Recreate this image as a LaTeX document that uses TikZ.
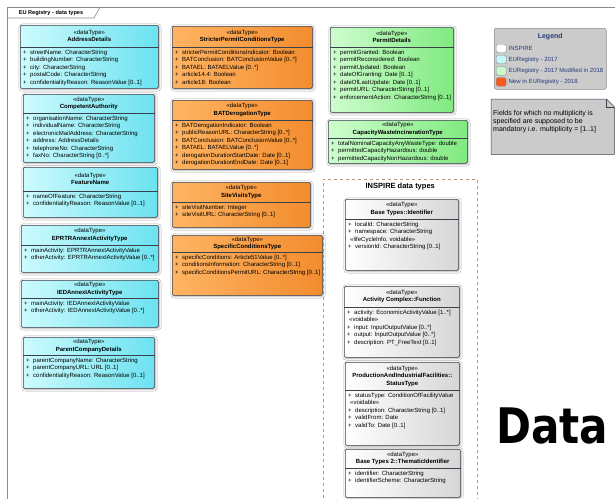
\documentclass[tikz,border=0pt]{standalone}
\usepackage{fontspec}
\setmainfont{Liberation Sans}
\newfontfamily\titlefont{DejaVu Sans}
\usepackage{tikz}
\usetikzlibrary{calc,positioning,shadows.blur}
\definecolor{clsline}{HTML}{3A404C}
\definecolor{cyanlo}{HTML}{CCFBFD}
\definecolor{cyanhi}{HTML}{6CE2F0}
\definecolor{orangelo}{HTML}{FFB462}
\definecolor{orangehi}{HTML}{F28C2E}
\definecolor{greenlo}{HTML}{CEFDCE}
\definecolor{greenhi}{HTML}{80EA80}
\definecolor{greyhi}{HTML}{D6D6D6}
\definecolor{pkgline}{HTML}{C4906E}
\definecolor{frameline}{HTML}{8A8A8A}
\definecolor{legendfg}{HTML}{243C7C}
\definecolor{legendbg}{HTML}{CBCBCB}
\definecolor{newred}{HTML}{F65A1C}
\definecolor{swcyan}{HTML}{C6F6F8}
\definecolor{swgreen}{HTML}{CCF8CC}

\newcommand{\pl}{\makebox[7pt][l]{+}}
% one UML data type: name, style, NW corner, width, height, header height, title, attributes
\newcommand{\dtclass}[8]{%
  \node[#2, minimum width=#4pt, minimum height=#5pt] (#1) at #3 {};
  \node[clshead] (#1-head) at ($(#1.north)+(0,#6/2)$) {«dataType»\\\bfseries #7};
  \draw[clssep] ($(#1.north west)+(0,#6)$) -- ($(#1.north east)+(0,#6)$);
  \node[clsattr] (#1-attr) at ($(#1.north west)+(3,#6+2.6)$) {#8};
}

\begin{document}
\begin{tikzpicture}[
    x=1pt, y=-1pt,
    font=\fontsize{6}{7.5}\selectfont,
    cls/.style={draw=clsline, line width=0.5pt, rounded corners=1.2pt, anchor=north west, inner sep=0pt,
      blur shadow={shadow xshift=0.8pt, shadow yshift=-0.8pt, shadow blur steps=3}},
    eu2017/.style={cls, left color=cyanlo, right color=cyanhi},
    eu2018/.style={cls, left color=orangelo, right color=orangehi},
    eumod/.style={cls, left color=greenlo, right color=greenhi},
    inspire/.style={cls, left color=white, right color=greyhi},
    clshead/.style={align=center, inner sep=0pt},
    clssep/.style={draw=clsline, line width=0.5pt},
    clsattr/.style={align=left, anchor=north west, inner sep=0pt},
    pkgbox/.style={draw=pkgline, dashed, line width=0.5pt, anchor=north west, inner sep=0pt},
    legendbox/.style={draw=frameline, fill=legendbg, rounded corners=2pt, anchor=north west, inner sep=0pt, line width=0.5pt},
    swatch/.style={draw=frameline, rounded corners=1.5pt, minimum width=10pt, minimum height=8.5pt, anchor=north west, inner sep=0pt, line width=0.4pt},
    legendtext/.style={text=legendfg, inner sep=0pt, font=\fontsize{6}{7}\selectfont}
  ]
  \useasboundingbox (0,0) rectangle (615,498);
  \fill[white] (0,0) rectangle (615,498);
  \clip (0,0) rectangle (615,498);

  % diagram frame
  \draw[frameline, line width=0.6pt] (7,505) -- (7,7) -- (620,7);
  \draw[frameline, line width=0.6pt] (7,18) -- (94,18) -- (100,7);
  \node[font=\fontsize{5.6}{6}\selectfont\bfseries, inner sep=0pt] (frametitle) at (51,12.8) {EU Registry - data types};

  % EU Registry 2017
  \dtclass{address}{eu2017}{(20,25)}{138}{63}{22}{AddressDetails}{%
    \pl streetName: CharacterString\\
    \pl buildingNumber: CharacterString\\
    \pl city: CharacterString\\
    \pl postalCode: CharacterString\\
    \pl confidentialityReason: ReasonValue [0..1]}
  \dtclass{competent}{eu2017}{(23,94)}{131}{68}{19}{CompetentAuthority}{%
    \pl organisationName: CharacterString\\
    \pl individualName: CharacterString\\
    \pl electronicMailAddress: CharacterString\\
    \pl address: AddressDetails\\
    \pl telephoneNo: CharacterString\\
    \pl faxNo: CharacterString [0..*]}
  \dtclass{featurename}{eu2017}{(23,167)}{134}{50}{24}{FeatureName}{%
    \pl nameOfFeature: CharacterString\\
    \pl confidentialityReason: ReasonValue [0..1]}
  \dtclass{eprtr}{eu2017}{(21,225)}{137}{47}{20}{EPRTRAnnexIActivityType}{%
    \pl mainActivity: EPRTRAnnexIActivityValue\\
    \pl otherActivity: EPRTRAnnexIActivityValue [0..*]}
  \dtclass{ied}{eu2017}{(21,280)}{137}{47}{18}{IEDAnnexIActivityType}{%
    \pl mainActivity: IEDAnnexIActivityValue\\
    \pl otherActivity: IEDAnnexIActivityValue [0..*]}
  \dtclass{parent}{eu2017}{(23,337)}{131}{51}{18}{ParentCompanyDetails}{%
    \pl parentCompanyName: CharacterString\\
    \pl parentCompanyURL: URL [0..1]\\
    \pl confidentialityReason: ReasonValue [0..1]}

  % new in 2018
  \dtclass{stricter}{eu2018}{(172,26)}{140}{62}{21}{StricterPermitConditionsType}{%
    \pl stricterPermitConditionsIndicator: Boolean\\
    \pl BATConclusion: BATConclusionValue [0..*]\\
    \pl BATAEL: BATAELValue [0..*]\\
    \pl article14.4: Boolean\\
    \pl article18: Boolean}
  \dtclass{batderog}{eu2018}{(172,100)}{140}{69}{20}{BATDerogationType}{%
    \pl BATDerogationIndicator: Boolean\\
    \pl publicReasonURL: CharacterString [0..*]\\
    \pl BATConclusion: BATConclusionValue [0..*]\\
    \pl BATAEL: BATAELValue [0..*]\\
    \pl derogationDurationStartDate: Date [0..1]\\
    \pl derogationDurationEndDate: Date [0..1]}
  \dtclass{sitevisits}{eu2018}{(172,182)}{138}{45}{20}{SiteVisitsType}{%
    \pl siteVisitNumber: Integer\\
    \pl siteVisitURL: CharacterString [0..1]}
  \dtclass{specific}{eu2018}{(172,235)}{150}{60}{17}{SpecificConditionsType}{%
    \pl specificConditions: Article51Value [0..*]\\
    \pl conditionsInformation: CharacterString [0..1]\\
    \pl specificConditionsPermitURL: CharacterString [0..1]}

  % 2017, modified in 2018
  \dtclass{permit}{eumod}{(330,27)}{123}{85}{20}{PermitDetails}{%
    \pl permitGranted: Boolean\\
    \pl permitReconsidered: Boolean\\
    \pl permitUpdated: Boolean\\
    \pl dateOfGranting: Date [0..1]\\
    \pl dateOfLastUpdate: Date [0..1]\\
    \pl permitURL: CharacterString [0..1]\\
    \pl enforcementAction: CharacterString [0..1]}
  \dtclass{capacity}{eumod}{(328,120)}{139}{43}{18}{CapacityWasteIncinerationType}{%
    \pl totalNominalCapacityAnyWasteType: double\\
    \pl permittedCapacityHazardous: double\\
    \pl permittedCapacityNonHazardous: double}

  % INSPIRE package
  \node[pkgbox, minimum width=154pt, minimum height=330pt] (inspirepkg) at (323,179) {};
  \node[font=\fontsize{7.5}{8}\selectfont\bfseries, inner sep=0pt] (pkgtitle) at ($(inspirepkg.north)+(0,8)$) {INSPIRE data types};
  \dtclass{identifier}{inspire}{(345,199)}{113}{71}{20}{Base Types::Identifier}{%
    \pl localId: CharacterString\\
    \pl namespace: CharacterString\\
    \hspace*{2pt}«lifeCycleInfo, voidable»\\
    \pl versionId: CharacterString [0..1]}
  \dtclass{function}{inspire}{(344,286)}{115}{71}{21}{Activity Complex::Function}{%
    \pl activity: EconomicActivityValue [1..*]\\
    \hspace*{2pt}«voidable»\\
    \pl input: InputOutputValue [0..*]\\
    \pl output: InputOutputValue [0..*]\\
    \pl description: PT\_FreeText [0..1]}
  \dtclass{status}{inspire}{(345,362)}{114}{83}{28}{ProductionAndIndustrialFacilities::\\\bfseries StatusType}{%
    \pl statusType: ConditionOfFacilityValue\\
    \hspace*{2pt}«voidable»\\
    \pl description: CharacterString [0..1]\\
    \pl validFrom: Date\\
    \pl validTo: Date [0..1]}
  \dtclass{thematic}{inspire}{(345,449)}{115}{48}{19}{Base Types 2::ThematicIdentifier}{%
    \pl identifier: CharacterString\\
    \pl identifierScheme: CharacterString}

  % legend
  \node[legendbox, minimum width=112pt, minimum height=61pt] (legend) at (494,28) {};
  \node[text=legendfg, font=\fontsize{7}{8}\selectfont\bfseries, inner sep=0pt] (legendtitle) at ($(legend.north)+(0,9)$) {Legend};
  \node[swatch, fill=white] (sw-inspire) at (496,44) {};
  \node[swatch, fill=swcyan] (sw-2017) at (496,55) {};
  \node[swatch, fill=swgreen] (sw-mod) at (496,66.5) {};
  \node[swatch, fill=newred] (sw-new) at (496,77.5) {};
  \node[legendtext, right=2pt of sw-inspire] (lg-inspire) {INSPIRE};
  \node[legendtext, right=2pt of sw-2017] (lg-2017) {EURegistry - 2017};
  \node[legendtext, right=2pt of sw-mod] (lg-mod) {EURegistry - 2017 Modified in 2018};
  \node[legendtext, right=2pt of sw-new] (lg-new) {New in EURegistry - 2018};

  % note
  \node[anchor=north west, minimum width=123pt, minimum height=55pt, inner sep=0pt] (note) at (491,99) {};
  \filldraw[draw=clsline, fill=legendbg, line width=0.5pt] (note.north west) -- ($(note.north east)+(-8,0)$) -- ($(note.north east)+(0,8)$) -- (note.south east) -- (note.south west) -- cycle;
  \draw[clsline, line width=0.5pt] ($(note.north east)+(-8,0)$) -- ($(note.north east)+(-8,8)$) -- ($(note.north east)+(0,8)$);
  \node[anchor=north west, align=left, inner sep=0pt, font=\fontsize{7}{8}\selectfont] (notetext) at ($(note.north west)+(2,11.5)$) {Fields for which no multiplicity is\\specified are supposed to be\\mandatory i.e. multiplicity = [1..1]};

  \node[anchor=base west, inner sep=0pt, font=\titlefont\bfseries\fontsize{49}{49}\selectfont] (bigtitle) at (496,443) {\scalebox{0.86}[1]{Data}};
\end{tikzpicture}
\end{document}
